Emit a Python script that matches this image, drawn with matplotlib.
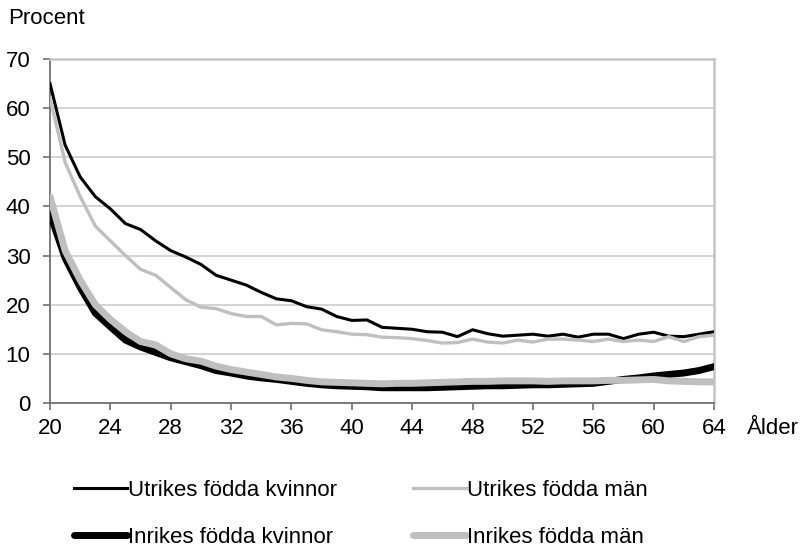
import numpy as np
import matplotlib
matplotlib.use("Agg")
import matplotlib.pyplot as plt

plt.rcParams['font.family'] = ['Liberation Sans', 'DejaVu Sans']

ages = list(range(20, 65))

utrikes_kvinnor = [65, 52.5, 46, 42, 39.5, 36.5, 35.3, 33, 31, 29.7, 28.2, 26, 25, 24, 22.5, 21.2,
                   20.8, 19.6, 19.1, 17.6, 16.8, 16.9, 15.4, 15.2, 15.0, 14.5, 14.4, 13.5, 14.9, 14.1,
                   13.6, 13.8, 14.0, 13.6, 14.0, 13.4, 14.0, 14.0, 13.1, 14.0, 14.4, 13.6, 13.5, 14.0, 14.5]
utrikes_man = [62, 49, 42, 36, 33, 30, 27.2, 26, 23.5, 21, 19.5, 19.2, 18.2, 17.6, 17.6, 15.9,
               16.2, 16.1, 14.9, 14.5, 14.0, 13.9, 13.4, 13.3, 13.1, 12.7, 12.2, 12.3, 13.0, 12.4,
               12.2, 12.8, 12.4, 13.0, 13.0, 12.8, 12.5, 13.0, 12.5, 12.8, 12.5, 13.5, 12.5, 13.5, 13.8]
inrikes_kvinnor = [38.5, 29.5, 23.5, 18.3, 15.5, 12.8, 11.4, 10.3, 9.2, 8.4, 7.6, 6.6, 6.1, 5.5, 5.1, 4.8,
                   4.4, 4.0, 3.7, 3.5, 3.4, 3.3, 3.1, 3.1, 3.1, 3.1, 3.2, 3.3, 3.4, 3.5,
                   3.5, 3.6, 3.7, 3.7, 3.8, 3.9, 4.0, 4.4, 4.8, 5.1, 5.5, 5.8, 6.1, 6.6, 7.4]
inrikes_man = [42, 31, 25, 20, 17, 14.5, 12.5, 11.8, 10, 9, 8.5, 7.5, 6.8, 6.3, 5.8, 5.3,
               5.0, 4.6, 4.3, 4.2, 4.1, 4.0, 3.9, 4.0, 4.0, 4.1, 4.2, 4.3, 4.4, 4.4,
               4.5, 4.5, 4.5, 4.4, 4.5, 4.5, 4.5, 4.6, 4.6, 4.7, 4.8, 4.5, 4.4, 4.3, 4.3]

labels = ["Utrikes födda kvinnor", "Utrikes födda män",
          "Inrikes födda kvinnor", "Inrikes födda män"]
xticks = list(range(20, 65, 4))
yticks = list(range(0, 71, 10))

fs = 16

fig = plt.figure(figsize=(8.08, 5.5), dpi=100)
ax = fig.add_axes([0.0619, 0.2673, 0.8218, 0.6254])

grey = "#BFBFBF"
l1, = ax.plot(ages, utrikes_kvinnor, color="black", lw=2.2, solid_joinstyle="round", zorder=3)
l2, = ax.plot(ages, utrikes_man, color=grey, lw=2.4, solid_joinstyle="round", zorder=3)
l3, = ax.plot(ages, inrikes_kvinnor, color="black", lw=5.0, solid_joinstyle="round",
              solid_capstyle="round", zorder=3)
l4, = ax.plot(ages, inrikes_man, color=grey, lw=5.0, solid_joinstyle="round",
              solid_capstyle="round", zorder=3)

ax.set_xlim(20, 64)
ax.set_ylim(0, 70)
ax.set_xticks(xticks)
ax.set_yticks(yticks)
ax.tick_params(axis="both", direction="out", length=5, width=1.2, color="#707070",
               labelsize=fs)
ax.tick_params(axis="y", pad=9)
ax.tick_params(axis="x", pad=6)
ax.yaxis.grid(True, color="#D0D0D0", lw=1.3)
ax.set_axisbelow(True)
for s in ["left", "bottom"]:
    ax.spines[s].set_color("#707070")
    ax.spines[s].set_linewidth(1.3)
for s in ["top", "right"]:
    ax.spines[s].set_color("#C4C4C4")
    ax.spines[s].set_linewidth(1.8)

fig.text(8 / 808, 1 - 19 / 550, "Procent", fontsize=fs, va="center", ha="left")
fig.text(747 / 808, 1 - 428 / 550, "Ålder", fontsize=fs, va="center", ha="left")

handles = [l1, l3, l2, l4]
hlabels = [labels[0], labels[2], labels[1], labels[3]]
fig.legend(handles, hlabels, ncol=2, loc="center left", bbox_to_anchor=(74 / 808, 1 - 514 / 550),
           frameon=False, fontsize=fs, handlelength=2.4, handletextpad=0.05,
           columnspacing=3.4, labelspacing=1.17, borderpad=0, borderaxespad=0)

fig.savefig("out.png", dpi=100)
